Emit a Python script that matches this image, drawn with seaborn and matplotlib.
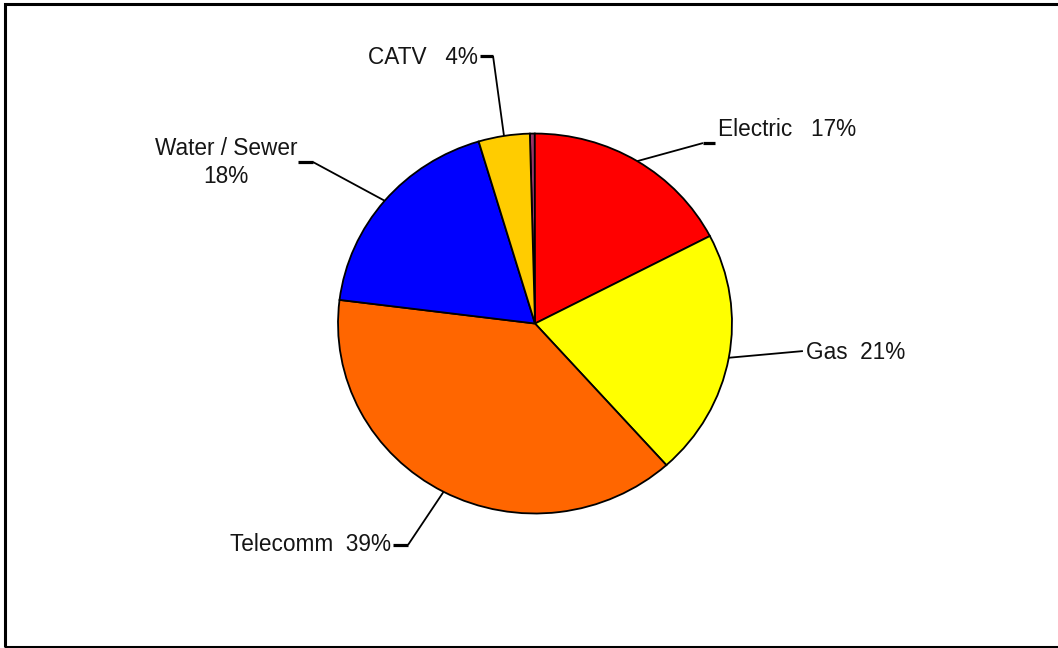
import numpy as np
import matplotlib
matplotlib.use("Agg")
import matplotlib.pyplot as plt
from matplotlib.patches import Rectangle
import seaborn as sns

# Share of utility locates by facility type (percent)
categories = ["Other", "Electric", "Gas", "Telecomm", "Water / Sewer", "CATV"]
shares = [0.4, 17.4, 21.0, 38.6, 18.4, 4.2]
colors = ["#993366", "#FF0000", "#FFFF00", "#FF6600", "#0000FF", "#FFCC00"]

sns.set_theme(style="white")
plt.rcParams["font.family"] = ["Liberation Sans", "DejaVu Sans"]

fig = plt.figure(figsize=(10.58, 6.48), dpi=100)
ax = fig.add_axes([0, 0, 1, 1])

wedges, _ = ax.pie(
    shares,
    colors=colors,
    startangle=91.5,
    counterclock=False,
    radius=1.0,
    wedgeprops=dict(edgecolor="black", linewidth=1.3),
)

# slightly wider than tall, as in the printed report
ax.set_aspect("auto")
ax.set_xlim(-2.716, 2.655)
ax.set_ylim(-1.708, 1.703)
ax.axis("off")

text_kw = dict(fontsize=16.3, color="#151515")
line_kw = dict(color="black", linewidth=1.3, solid_capstyle="butt")
tick_kw = dict(color="black", linewidth=2.3, solid_capstyle="butt")


def edge_point(w):
    mid = np.deg2rad((w.theta1 + w.theta2) / 2.0)
    return np.cos(mid), np.sin(mid)


def label_text(name, value, gap="  "):
    return f"{name}{gap}{round(value)}%"


layout = {
    # name: (tick_start, tick_end, text_pos, ha, gap)
    "Electric": ((0.853, 0.950), (0.914, 0.950), (0.929, 1.020), "left", "   "),
    "Gas": ((1.360, -0.145), None, (1.376, -0.155), "left", "  "),
    "Telecomm": ((-0.645, -1.166), (-0.721, -1.166), (-0.731, -1.163), "right", "  "),
    "Water / Sewer": ((-1.127, 0.850), (-1.203, 0.850), (-1.569, 0.848), "center", "\n"),
    "CATV": ((-0.213, 1.408), (-0.279, 1.408), (-0.289, 1.400), "right", "   "),
}

for w, name, val in zip(wedges, categories, shares):
    if name not in layout:
        continue
    start, end, tpos, ha, gap = layout[name]
    ex, ey = edge_point(w)
    ax.plot([ex, start[0]], [ey, start[1]], **line_kw)
    if end is not None:
        ax.plot([start[0], end[0]], [start[1], end[1]], **tick_kw)
    ax.text(tpos[0], tpos[1], label_text(name, val, gap), ha=ha, va="center",
            multialignment="center", linespacing=1.3, **text_kw)

# page frame around the chart
fig.patches.append(Rectangle((4.5 / 1058, 1.5 / 648), 1.2, 643 / 648,
                             transform=fig.transFigure, fill=False,
                             edgecolor="black", linewidth=2.2))

fig.savefig("out.png", dpi=100)
